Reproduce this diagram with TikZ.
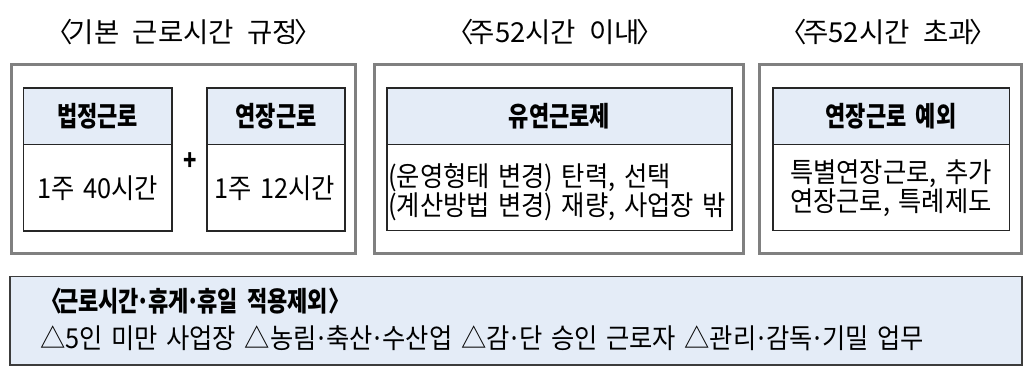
\documentclass[tikz,border=0pt]{standalone}
\usepackage{fontspec}
\setmainfont{Noto Sans CJK KR}
\newfontfamily\ttlfont{Noto Sans CJK KR}[WordSpace=2.2]
\newfontfamily\bdyfont{Noto Sans CJK KR}[FakeStretch=0.92, WordSpace=1.5]
\newfontfamily\hdrfont{Noto Sans CJK KR}[FakeStretch=0.8, WordSpace=1.8]
\newcommand\mdot{\kern-.08em·\kern-.08em}
\newcommand\lbr{〈\kern-.15em}
\newcommand\rbr{\kern-.15em〉}
\newcommand\rbrb{\kern.02em〉}
\definecolor{outergray}{HTML}{808080}
\definecolor{innerdark}{HTML}{262626}
\definecolor{headfill}{HTML}{E4ECF7}
\definecolor{bottomline}{HTML}{3C3C3C}
\begin{document}
\begin{tikzpicture}[x=1pt,y=-1pt,
  outerbox/.style={draw=outergray, line width=3pt},
  innerbox/.style={draw=innerdark, line width=1.2pt},
  headbox/.style={draw=innerdark, line width=1.2pt, fill=headfill},
  title/.style={inner sep=0pt, font=\ttlfont\fontsize{27.5}{28}\selectfont},
  headtext/.style={inner sep=0pt, font=\hdrfont\bfseries\fontsize{27.5}{28}\selectfont},
  bodytext/.style={inner sep=0pt, font=\bdyfont\fontsize{27.5}{28}\selectfont}]
\useasboundingbox (0,0) rectangle (1028,368);
% outer frames
\draw[outerbox] (11.5,64) rectangle (355.5,253.5);
\draw[outerbox] (374,64) rectangle (743,253.5);
\draw[outerbox] (759,64) rectangle (1021,253.5);
% titles
\node[title] (t1) at (183.5,32) {\lbr 기본 근로시간 규정\rbr};
\node[title] (t2) at (555,32) {\lbr 주52시간 이내\rbr};
\node[title] (t3) at (888.5,32) {\lbr 주52시간 초과\rbr};
% box 1a
\draw[headbox] (23.5,88) rectangle (172,144.5);
\draw[innerbox] (23.5,144.5) rectangle (172,231);
\node[headtext] (h1) at (97.75,116.5) {법정근로};
\node[bodytext] (b1) at (97.75,188.5) {1주 40시간};
% plus
\node[headtext] (plus) at (190.5,162) {+};
% box 1b
\draw[headbox] (207,88) rectangle (345,144.5);
\draw[innerbox] (207,144.5) rectangle (345,231);
\node[headtext] (h2) at (276,116.5) {연장근로};
\node[bodytext] (b2) at (274.5,188.5) {1주 12시간};
% box 2
\draw[headbox] (387,88) rectangle (732,144.5);
\draw[innerbox] (387,144.5) rectangle (732,230.5);
\node[headtext] (h3) at (559.5,116.5) {유연근로제};
\node[bodytext, align=left, anchor=west] (b3) at (388,192) {(운영형태 변경) 탄력, 선택\\(계산방법 변경) 재량, 사업장 밖};
% box 3
\draw[headbox] (773,88) rectangle (1009.5,144.5);
\draw[innerbox] (773,144.5) rectangle (1009.5,230.5);
\node[headtext] (h4) at (891,116.5) {연장근로 예외};
\node[bodytext, align=right, anchor=east, font=\bdyfont\fontsize{27.5}{25}\selectfont] (b4) at (992,188) {특별연장근로, 추가\\연장근로, 특례제도};
% bottom box
\draw[draw=bottomline, line width=1.5pt, fill=headfill] (10,276.5) rectangle (1022,365);
\node[headtext, anchor=west] (bt) at (40,301) {\lbr 근로시간\mdot 휴게\mdot 휴일 적용제외\rbrb};
\node[bodytext, anchor=west] (bl) at (40,338) {△5인 미만 사업장 △농림\mdot 축산\mdot 수산업 △감\mdot 단 승인 근로자 △관리\mdot 감독\mdot 기밀 업무};
\end{tikzpicture}
\end{document}
